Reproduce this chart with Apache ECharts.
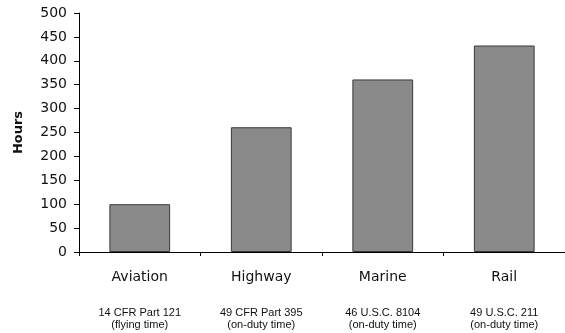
<!DOCTYPE html>
<html>
<head>
<meta charset="utf-8">
<script src="https://cdn.jsdelivr.net/npm/echarts@6/dist/echarts.min.js"></script>
<style>
html,body{margin:0;padding:0;background:#fff;}
#chart{width:565px;height:333px;}
</style>
</head>
<body>
<div id="chart"></div>
<script>
var categories = ['Aviation', 'Highway', 'Marine', 'Rail'];
var regulations = ['14 CFR Part 121', '49 CFR Part 395', '46 U.S.C. 8104', '49 U.S.C. 211'];
var notes = ['(flying time)', '(on-duty time)', '(on-duty time)', '(on-duty time)'];
var hours = [100, 261, 361, 432];
var yTicks = { min: 0, max: 500, interval: 50 };

var chart = echarts.init(document.getElementById('chart'), null, { renderer: 'canvas' });
chart.setOption({
  animation: false,
  backgroundColor: '#ffffff',
  grid: { left: 79, top: 13, width: 494, height: 239 },
  xAxis: {
    type: 'category',
    data: categories,
    axisLine: { lineStyle: { color: '#000', width: 1 } },
    axisTick: { show: true, length: 4, lineStyle: { color: '#000' } },
    axisLabel: {
      margin: 15,
      interval: 0,
      formatter: function (v, i) {
        return '{a|' + v + '}\n{g| }\n{b|' + regulations[i] + '}\n{b|' + notes[i] + '}';
      },
      rich: {
        a: { fontFamily: 'DejaVu Sans', fontSize: 14, lineHeight: 20, color: '#111' },
        g: { fontSize: 10, lineHeight: 20 },
        b: { fontFamily: 'Liberation Sans', fontSize: 11, lineHeight: 12, color: '#111' }
      }
    }
  },
  yAxis: {
    type: 'value',
    min: yTicks.min,
    max: yTicks.max,
    interval: yTicks.interval,
    name: 'Hours',
    nameLocation: 'middle',
    nameGap: 54,
    nameRotate: 90,
    nameTextStyle: { fontFamily: 'DejaVu Sans', fontWeight: 'bold', fontSize: 13, color: '#111' },
    axisLine: { show: true, lineStyle: { color: '#000', width: 1 } },
    axisTick: { show: true, length: 5, lineStyle: { color: '#000' } },
    splitLine: { show: false },
    axisLabel: { margin: 12, fontFamily: 'DejaVu Sans', fontSize: 14, color: '#111' }
  },
  series: [{
    type: 'bar',
    data: hours,
    barWidth: '50%',
    itemStyle: { color: '#8a8a8a', borderColor: '#3a3a3a', borderWidth: 1 }
  }]
});
</script>
</body>
</html>
